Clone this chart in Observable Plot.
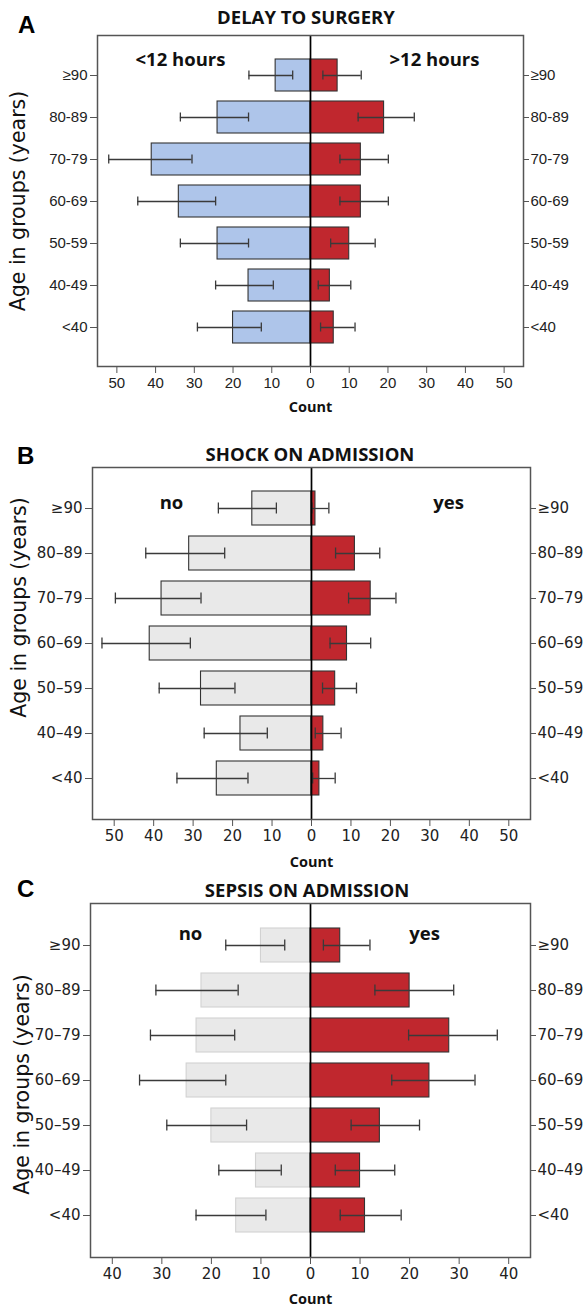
<!DOCTYPE html>
<html><head><meta charset="utf-8">
<script src="https://cdn.jsdelivr.net/npm/d3@7"></script>
<script src="https://cdn.jsdelivr.net/npm/@observablehq/plot@0.6"></script>
<style>
body{margin:0;background:#fff;}
#wrap{position:relative;width:588px;height:1307px;overflow:hidden;background:#fff;}
.panel{position:absolute;left:0;}
.letter{position:absolute;font:bold 24px "Liberation Sans",Arial,sans-serif;color:#000;transform:translate(0,-50%);}
.title{position:absolute;font:bold 18.5px "Open Sans",sans-serif;color:#111;transform:translate(-50%,-50%);white-space:nowrap;}
</style></head><body><div id="wrap"></div>
<script>
// ---------- data ----------
const ageGroupsA = ["≥90","80-89","70-79","60-69","50-59","40-49","<40"];
const ageGroupsBC = ["≥90","80–89","70–79","60–69","50–59","40–49","<40"];

// A: DELAY TO SURGERY
const delayUnder12 = [9,24,41,34,24,16,20];
const delayUnder12Lo = [4.6,16,30.6,24.5,16,9.6,12.7];
const delayUnder12Hi = [15.9,33.6,52.1,44.6,33.6,24.5,29.2];
const delayOver12 = [7,19,13,13,10,5,6];
const delayOver12Lo = [3.2,12.3,7.6,7.6,5.2,2,2.6];
const delayOver12Hi = [13.1,26.8,20.1,20.1,16.7,10.4,11.5];

// B: SHOCK ON ADMISSION
const shockNo = [15,31,38,41,28,18,24];
const shockNoLo = [8.9,22,28,30.7,19.4,11.2,16.1];
const shockNoHi = [23.6,42,49.7,53.1,38.6,27.2,34.1];
const shockYes = [1,11,15,9,6,3,2];
const shockYesLo = [0.1,6.1,9.4,4.7,2.8,0.95,0.3];
const shockYesHi = [4.4,17.3,21.4,15,11.4,7.5,6];

// C: SEPSIS ON ADMISSION
const sepsisNo = [10,22,23,25,20,11,15];
const sepsisNoLo = [5.2,14.6,15.3,17.1,12.9,5.9,9];
const sepsisNoHi = [17.1,31.2,32.3,34.5,29,18.5,23.1];
const sepsisYes = [6,20,28,24,14,10,11];
const sepsisYesLo = [2.6,13,19.8,16.4,8.2,5,6];
const sepsisYesHi = [12,28.9,37.7,33.2,22,17,18.3];

const ticksAB = [-50,-40,-30,-20,-10,0,10,20,30,40,50];
const ticksC = [-40,-30,-20,-10,0,10,20,30,40];

const red = "#c0272e";

function panel(o) {
  const rows = o.groups.flatMap((g, i) => [
    {g, side: "L", v: -o.left[i], lo: -o.leftLo[i], hi: -o.leftHi[i]},
    {g, side: "R", v: o.right[i], lo: o.rightLo[i], hi: o.rightHi[i]}
  ]);
  const errStroke = "#3a3a3a";
  return Plot.plot({
    width: 588, height: o.height,
    marginTop: o.mt, marginBottom: o.mb, marginLeft: o.ml, marginRight: o.mr,
    style: {fontFamily: o.tickFont, fontSize: o.tickFontSize + "px", color: "#222", background: "transparent", overflow: "visible"},
    x: {domain: [-o.xMax, o.xMax]},
    y: {type: "band", domain: o.groups, paddingInner: 0.25, paddingOuter: o.padOuter},
    marks: [
      Plot.barX(rows, {y: "g", x1: 0, x2: "v",
        fill: d => d.side === "L" ? o.leftFill : red,
        stroke: d => d.side === "L" ? o.leftStroke : "#333", strokeWidth: 1.1}),
      Plot.ruleY(rows, {y: "g", x1: "lo", x2: "hi", stroke: errStroke, strokeWidth: 1.3}),
      Plot.tickX(rows, {y: "g", x: "lo", stroke: errStroke, strokeWidth: 1.3, insetTop: o.capInset, insetBottom: o.capInset}),
      Plot.tickX(rows, {y: "g", x: "hi", stroke: errStroke, strokeWidth: 1.3, insetTop: o.capInset, insetBottom: o.capInset}),
      Plot.ruleX([0], {stroke: "#000", strokeWidth: 1.7}),
      Plot.frame({stroke: "#555", strokeWidth: 1.5}),
      Plot.axisY({anchor: "left", tickSize: 7, tickPadding: 3, label: null, stroke: "#555"}),
      Plot.axisY({anchor: "right", tickSize: 5, tickPadding: 2, label: null, stroke: "#555"}),
      Plot.axisX({anchor: "bottom", ticks: o.ticks, tickFormat: d => Math.abs(d), tickSize: 7, tickPadding: 4, label: null, stroke: "#555"}),
      Plot.text(["Count"], {frameAnchor: "bottom", dy: o.countDy, textAnchor: "middle", lineAnchor: "middle",
        fontWeight: "bold", fontFamily: "Open Sans", fontSize: 14.5, fill: "#111"}),
      Plot.text(["Age in groups (years)"], {frameAnchor: "left", rotate: -90, dx: o.axisTitleX - o.ml, dy: o.axisTitleDy,
        textAnchor: "middle", lineAnchor: "middle", fontFamily: "DejaVu Sans", fontSize: 20.5, fill: "#111"}),
      Plot.text([o.leftLabel], {frameAnchor: "top-left", dx: o.leftLabelDx, dy: o.labelDy, textAnchor: "middle", lineAnchor: "middle",
        fontWeight: "bold", fontFamily: "Open Sans", fontSize: 18.5, fill: "#111"}),
      Plot.text([o.rightLabel], {frameAnchor: "top-right", dx: o.rightLabelDx, dy: o.labelDy, textAnchor: "middle", lineAnchor: "middle",
        fontWeight: "bold", fontFamily: "Open Sans", fontSize: 18.5, fill: "#111"})
    ]
  });
}

const wrap = document.getElementById("wrap");
function place(el, top) {
  const d = document.createElement("div");
  d.className = "panel"; d.style.top = top + "px";
  d.appendChild(el); wrap.appendChild(d);
}

place(panel({
  groups: ageGroupsA, left: delayUnder12, leftLo: delayUnder12Lo, leftHi: delayUnder12Hi,
  right: delayOver12, rightLo: delayOver12Lo, rightHi: delayOver12Hi,
  leftFill: "#aec5ea", leftStroke: "#333", xMax: 55, ticks: ticksAB,
  tickFont: "Liberation Sans", tickFontSize: 15,
  height: 420, mt: 35, mb: 54, ml: 97, mr: 65, padOuter: 0.5, capInset: 11.5,
  countDy: 40.7, axisTitleX: 18, axisTitleDy: 0,
  leftLabel: "<12 hours", rightLabel: ">12 hours", leftLabelDx: 83, rightLabelDx: -89, labelDy: 25
}), 0);

place(panel({
  groups: ageGroupsBC, left: shockNo, leftLo: shockNoLo, leftHi: shockNoHi,
  right: shockYes, rightLo: shockYesLo, rightHi: shockYesHi,
  leftFill: "#e9e9e9", leftStroke: "#333", xMax: 55.5, ticks: ticksAB,
  tickFont: "DejaVu Sans", tickFontSize: 15,
  height: 440, mt: 37, mb: 51, ml: 92, mr: 58, padOuter: 0.52, capInset: 11.5,
  countDy: 42.7, axisTitleX: 19, axisTitleDy: -36,
  leftLabel: "no", rightLabel: "yes", leftLabelDx: 79, rightLabelDx: -82, labelDy: 36
}), 430);

place(panel({
  groups: ageGroupsBC, left: sepsisNo, leftLo: sepsisNoLo, leftHi: sepsisNoHi,
  right: sepsisYes, rightLo: sepsisYesLo, rightHi: sepsisYesHi,
  leftFill: "#e9e9e9", leftStroke: "#d2d2d2", xMax: 44.4, ticks: ticksC,
  tickFont: "DejaVu Sans", tickFontSize: 15,
  height: 437, mt: 33, mb: 50, ml: 90, mr: 58, padOuter: 0.515, capInset: 11.5,
  countDy: 42.3, axisTitleX: 22, axisTitleDy: 4,
  leftLabel: "no", rightLabel: "yes", leftLabelDx: 100, rightLabelDx: -106, labelDy: 31
}), 870);

// titles and panel letters
const titles = [
  {text: "DELAY TO SURGERY", x: 306, y: 16},
  {text: "SHOCK ON ADMISSION", x: 310, y: 453},
  {text: "SEPSIS ON ADMISSION", x: 307, y: 889}
];
const letters = [{t: "A", x: 18, y: 25}, {t: "B", x: 17, y: 456}, {t: "C", x: 17, y: 889}];
for (const t of titles) {
  const d = document.createElement("div"); d.className = "title";
  d.style.left = t.x + "px"; d.style.top = t.y + "px"; d.textContent = t.text; wrap.appendChild(d);
}
for (const l of letters) {
  const d = document.createElement("div"); d.className = "letter";
  d.style.left = l.x + "px"; d.style.top = l.y + "px"; d.textContent = l.t; wrap.appendChild(d);
}
</script>
</body></html>
